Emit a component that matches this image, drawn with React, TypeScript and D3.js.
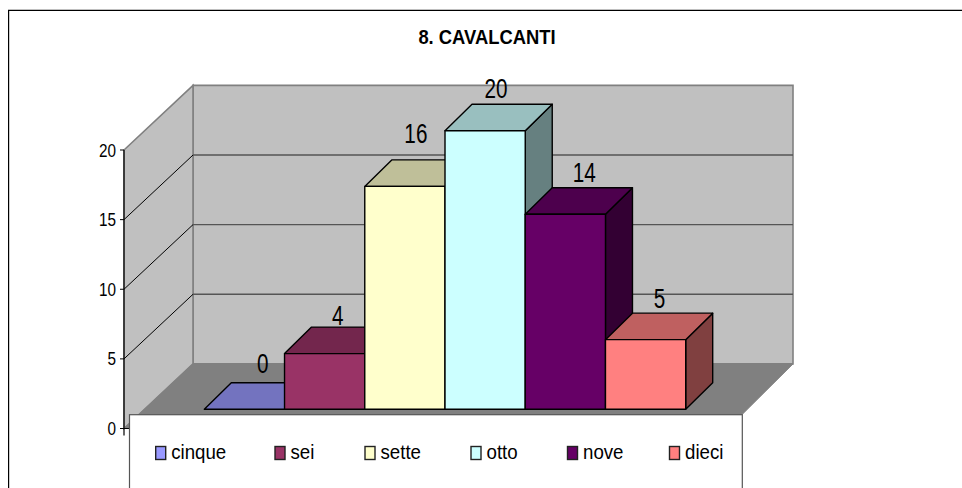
import React from "react";
import * as d3 from "d3";

const categories = ["cinque", "sei", "sette", "otto", "nove", "dieci"];
const values = [0, 4, 16, 20, 14, 5];
const fronts = ["#9999ff", "#993366", "#ffffcc", "#ccffff", "#660066", "#ff8080"];
const tops = ["#7373bf", "#73264d", "#bfbf99", "#99bfbf", "#4d004d", "#bf6060"];
const sides = ["#4d4d80", "#4d1933", "#808066", "#668080", "#330033", "#804040"];
const ticks = [0, 5, 10, 15, 20];

const FONT = "'Liberation Sans', Arial, sans-serif";

function Squeezed(props: { x: number; y: number; sx: number; size: number; anchor?: string; bold?: boolean; children: React.ReactNode }) {
  return (
    <text
      transform={`translate(${props.x},${props.y}) scale(${props.sx},1)`}
      textAnchor={props.anchor ?? "start"}
      fontFamily={FONT}
      fontSize={props.size}
      fontWeight={props.bold ? "bold" : "normal"}
      fill="#000"
    >
      {props.children}
    </text>
  );
}

export default function App() {
  const yFront = d3.scaleLinear().domain([0, 20]).range([428.5, 150]);
  const wallDx = 69, wallDy = -64.6;
  const yBack = (v: number) => yFront(v) + wallDy;
  const x0 = 124, xBack = x0 + wallDx, xBackR = 793;

  const x = d3.scaleBand<string>().domain(categories).range([204.3, 685.7]).paddingInner(0).paddingOuter(0);
  const yBar = d3.scaleLinear().domain([0, 20]).range([409.3, 130.7]);
  const bd = 27, bh = -26.5;
  const poly = (p: number[][]) => "M" + p.map((q) => q.join(",")).join("L") + "Z";

  const labelDx = [18.4, 13, 11, 11, 19, 14];
  const labelDy = [10, 1.6, 16.7, 6, 5.7, 5];
  const legendX = [155.7, 275, 365, 471, 567.5, 669.5];

  return (
    <svg width={962} height={488} style={{ position: "absolute", left: 0, top: 0, background: "#fff" }}>
      <path d="M8.6,488V10.3H962" fill="none" stroke="#000" strokeWidth={1.2} />
      <Squeezed x={487} y={44} sx={0.92} size={20} anchor="middle" bold>8. CAVALCANTI</Squeezed>

      {/* walls */}
      <path d={poly([[xBack, yBack(0)], [xBack, yBack(20)], [xBackR, yBack(20)], [xBackR, yBack(0)]])} fill="#c0c0c0" stroke="#808080" strokeWidth={1.6} />
      <path d={poly([[x0, yFront(0)], [x0, yFront(20)], [xBack, yBack(20)], [xBack, yBack(0)]])} fill="#c0c0c0" stroke="#808080" strokeWidth={1.6} />
      <path d={poly([[x0, yFront(0)], [xBack, yBack(0)], [xBackR, yBack(0)], [xBackR - wallDx + 4, yFront(0)]])} fill="#808080" stroke="#808080" strokeWidth={1} />

      {ticks.filter((t) => t > 0 && t < 20).map((t) => (
        <g key={t}>
          <line x1={x0} y1={yFront(t)} x2={xBack} y2={yBack(t)} stroke="#000" strokeWidth={1} />
          <line x1={xBack} y1={yBack(t)} x2={xBackR} y2={yBack(t)} stroke="#555" strokeWidth={1.4} />
        </g>
      ))}
      <line x1={x0} y1={yFront(0)} x2={x0} y2={yFront(20)} stroke="#000" strokeWidth={1.2} />
      {ticks.map((t) => (
        <g key={t}>
          <line x1={x0 - 4} y1={yFront(t)} x2={x0} y2={yFront(t)} stroke="#000" strokeWidth={1} />
          <Squeezed x={x0 - 8} y={yFront(t) + 6.5} sx={0.85} size={18} anchor="end">{t}</Squeezed>
        </g>
      ))}
      <line x1={x0 - 4} y1={yFront(0)} x2={x0 + 6} y2={yFront(0)} stroke="#000" strokeWidth={1} />
      <line x1={x0} y1={yFront(0)} x2={x0} y2={yFront(0) + 7} stroke="#000" strokeWidth={1.2} />

      {/* bars */}
      {categories.map((c, i) => {
        const l = x(c)!, r = l + x.bandwidth();
        const t = yBar(values[i]), b = yBar(0);
        return (
          <g key={c} stroke="#000" strokeWidth={1.4} strokeLinejoin="round">
            <path d={poly([[r, t], [r + bd, t + bh], [r + bd, b + bh], [r, b]])} fill={sides[i]} />
            <path d={poly([[l, t], [l + bd, t + bh], [r + bd, t + bh], [r, t]])} fill={tops[i]} />
            <rect x={l} y={t} width={x.bandwidth()} height={b - t} fill={fronts[i]} />
          </g>
        );
      })}
      {categories.map((c, i) => (
        <Squeezed key={c} x={x(c)! + x.bandwidth() / 2 + labelDx[i]} y={yBar(values[i]) + bh - labelDy[i]} sx={0.74} size={28} anchor="middle">{values[i]}</Squeezed>
      ))}

      {/* legend */}
      <rect x={129.5} y={414.7} width={612.8} height={80} fill="#fff" stroke="#555" strokeWidth={1.2} />
      {categories.map((c, i) => (
        <g key={c}>
          <rect x={legendX[i]} y={446.5} width={10} height={13} fill={fronts[i]} stroke="#222" strokeWidth={1.4} />
          <Squeezed x={legendX[i] + 15.5} y={459} sx={0.89} size={21}>{c}</Squeezed>
        </g>
      ))}
    </svg>
  );
}
